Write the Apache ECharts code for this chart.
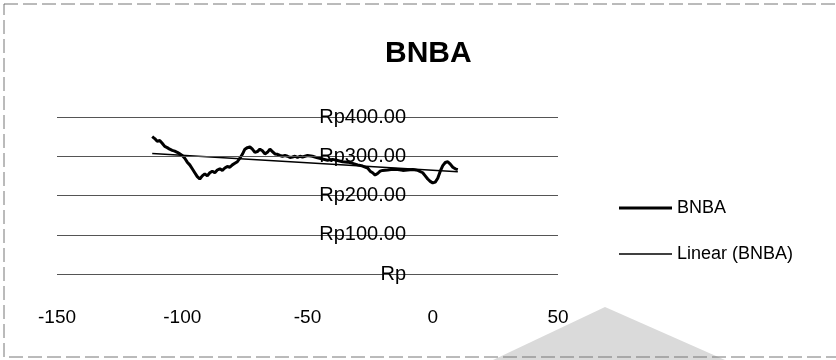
<!DOCTYPE html>
<html>
<head>
<meta charset="utf-8">
<script src="https://cdn.jsdelivr.net/npm/echarts@6/dist/echarts.min.js"></script>
<style>html,body{margin:0;padding:0;background:#fff}#c{width:836px;height:360px}</style>
</head>
<body>
<div id="c"></div>
<script>
// ---- data ----
const titleText = 'BNBA';
const seriesName = 'BNBA';
const trendName = 'Linear (BNBA)';
const xValues = [
  -112,-111,-110,-109,-108,-107,-106,-105,-104,-103,
  -102,-101,-100,-99,-98,-97,-96,-95,-94,-93,
  -92,-91,-90,-89,-88,-87,-86,-85,-84,-83,
  -82,-81,-80,-79,-78,-77,-76,-75,-74,-73,
  -72,-71,-70,-69,-68,-67,-66,-65,-64,-63,
  -62,-61,-60,-59,-58,-57,-56,-55,-54,-53,
  -52,
  -50,-48,-46,-44,-42,-40,-38,-36,-34,-32,-30,-28,-26,
  -25,-24,-23,-22,-21,-20,
  -18,-16,-14,-12,-10,-8,-6,-4,
  -3,-2,-1,0,1,2,3,4,5,6,7,8,9,10
];
const bnbaValues = [
  350,345,338,340,333,325,322,318,315,313,
  310,306,302,295,285,278,268,258,248,242,
  250,255,250,258,262,258,265,268,264,270,
  274,272,278,282,286,295,305,318,322,324,
  318,310,312,318,314,306,310,318,312,306,
  305,302,300,302,300,297,298,300,297,300,
  298,
  302,300,296,293,290,292,289,286,285,282,278,275,270,
  262,258,252,256,262,264,
  265,267,266,264,265,266,264,258,
  250,242,236,232,234,244,262,276,284,286,280,272,268,266
];
const xTicks = [-150,-100,-50,0,50];
const yTicks = [0,100,200,300,400];
const yTickLabels = ['Rp','Rp100.00','Rp200.00','Rp300.00','Rp400.00'];

// least-squares trend line from the series (Excel "Linear" trendline)
function linearFit(xs, ys){
  const n = Math.min(xs.length, ys.length);
  let sx=0, sy=0, sxx=0, sxy=0;
  for (let i=0;i<n;i++){ sx+=xs[i]; sy+=ys[i]; sxx+=xs[i]*xs[i]; sxy+=xs[i]*ys[i]; }
  const b = (n*sxy - sx*sy)/(n*sxx - sx*sx);
  const a = (sy - b*sx)/n;
  return [a,b];
}
const [ta, tb] = linearFit(xValues, bnbaValues);
const xFirst = xValues[0], xLast = xValues[xValues.length-1];
const trendData = [[xFirst, ta+tb*xFirst],[xLast, ta+tb*xLast]];
const bnbaData = xValues.map((x,i)=>[x, bnbaValues[i]]);

const font = 'Liberation Sans';
const chart = echarts.init(document.getElementById('c'), null, {renderer:'canvas'});
chart.setOption({
  animation:false,
  backgroundColor:'#ffffff',
  title:{
    text:titleText, left:380, top:34,
    textStyle:{fontFamily:font, fontWeight:'bold', fontSize:30, color:'#000'}
  },
  grid:{left:57, right:278, top:117, bottom:86, containLabel:false, outerBoundsMode:'none'},
  xAxis:{
    type:'value', min:xTicks[0], max:xTicks[xTicks.length-1], interval:50,
    axisLine:{show:false, onZero:false}, axisTick:{show:false}, splitLine:{show:false},
    axisLabel:{margin:34, fontFamily:font, fontSize:19, color:'#000'}
  },
  yAxis:{
    type:'value', min:yTicks[0], max:yTicks[yTicks.length-1], interval:100,
    axisLine:{show:false, onZero:false},
    axisTick:{show:false},
    splitLine:{show:true, lineStyle:{color:'#555', width:1}},
    axisLabel:{
      margin:-349, fontFamily:font, fontSize:20, color:'#000',
      formatter:function(v){ const i = yTicks.indexOf(v); return i>=0 ? yTickLabels[i] : ''; }
    },
    z:5
  },
  legend:[
    {orient:'vertical', left:614, top:194, itemWidth:53, itemHeight:3, icon:'rect',
     textStyle:{fontFamily:font, fontSize:18, color:'#000'},
     data:[{name:seriesName, itemStyle:{color:'#000'}}]},
    {orient:'vertical', left:614, top:240, itemWidth:53, itemHeight:1.5, icon:'rect',
     textStyle:{fontFamily:font, fontSize:18, color:'#000'},
     data:[{name:trendName, itemStyle:{color:'#000'}}]}
  ],
  series:[
    {name:seriesName, type:'line', data:bnbaData, symbol:'none', smooth:false,
     lineStyle:{color:'#000', width:3}, itemStyle:{color:'#000'}, z:3},
    {name:trendName, type:'line', data:trendData, symbol:'none',
     lineStyle:{color:'#000', width:1.5}, itemStyle:{color:'#000'}, z:4}
  ],
  graphic:[
    {type:'polygon', z:-1, shape:{points:[[493,360],[605,307],[725,360]]}, style:{fill:'#dadada'}},
    {type:'rect', z:-1, shape:{x:4, y:4, width:840, height:353}, style:{fill:'none', stroke:'#777', lineWidth:1, lineDash:[14,5]}}
  ]
});
</script>
</body>
</html>
